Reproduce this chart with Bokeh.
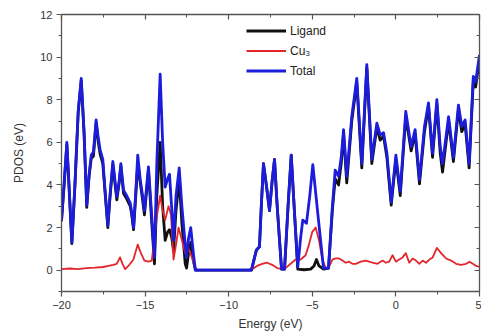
from bokeh.plotting import figure
from bokeh.models import (Range1d, LinearAxis, FixedTicker, CustomJSTickFormatter,
                          Legend, LegendItem)
from bokeh.embed import file_html
from bokeh.resources import INLINE

# ---------------- data ----------------
total_E = [-20.0, -19.85, -19.68, -19.55, -19.38, -19.2, -19.0, -18.82, -18.65, -18.49,
           -18.35, -18.22, -18.09, -17.93, -17.8, -17.69, -17.53, -17.4, -17.23, -17.1,
           -16.93, -16.8, -16.69, -16.55, -16.45, -16.29, -16.1, -15.89, -15.8, -15.69,
           -15.55, -15.44, -15.29, -15.15, -15.04, -14.9, -14.8, -14.6, -14.44, -14.3,
           -14.1, -13.95, -13.8, -13.65, -13.54, -13.4, -13.3, -13.15, -12.96, -12.8,
           -12.6, -12.52, -12.4, -12.27, -12.1, -11.99, -8.64, -8.34, -8.16, -8.05,
           -7.92, -7.75, -7.56, -7.4, -7.26, -7.1, -6.84, -6.66, -6.45, -6.26,
           -6.05, -5.87, -5.7, -5.57, -5.35, -5.15, -4.97, -4.65, -4.33, -4.03,
           -3.8, -3.63, -3.43, -3.27, -3.13, -2.94, -2.64, -2.34, -2.04, -1.74,
           -1.44, -1.14, -0.94, -0.74, -0.54, -0.28, 0.0, 0.26, 0.59, 0.91,
           1.15, 1.41, 1.71, 1.95, 2.19, 2.45, 2.65, 2.79, 3.15, 3.44,
           3.74, 3.94, 4.14, 4.38, 4.63, 4.77, 5.0]
total_V = [2.35, 4.0, 6.0, 4.0, 1.3, 4.0, 7.5, 9.0, 6.5, 3.05,
           4.5, 5.4, 5.55, 7.05, 6.2, 5.65, 5.2, 3.8, 2.1, 3.5,
           5.1, 4.2, 3.45, 4.2, 5.0, 3.75, 3.5, 3.15, 2.7, 2.0,
           3.8, 5.4, 4.25, 3.5, 2.8, 4.0, 4.85, 2.5, 0.6, 5.0,
           9.2, 6.0, 3.9, 4.3, 4.5, 2.8, 1.4, 3.5, 4.8, 3.0,
           1.2, 0.6, 1.5, 2.0, 0.7, 0.0, 0.0, 0.95, 1.1, 3.0,
           5.0, 4.0, 2.8, 4.2, 5.2, 3.0, 0.05, 0.05, 3.0, 5.4,
           2.5, 0.15, 1.5, 2.35, 2.2, 3.5, 4.95, 2.5, 0.1, 0.1,
           3.0, 4.7, 4.4, 5.3, 6.6, 4.4, 7.2, 9.0, 5.0, 9.65,
           5.2, 6.9, 6.35, 6.45, 5.5, 3.2, 5.4, 3.7, 7.45, 5.8,
           6.6, 4.25, 6.75, 7.85, 5.5, 8.0, 5.8, 5.0, 7.2, 5.3,
           7.75, 6.75, 7.05, 5.0, 9.1, 8.85, 10.1]

ligand_E = [-20.0, -19.85, -19.68, -19.55, -19.38, -19.2, -19.0, -18.82, -18.65, -18.49,
            -18.35, -18.22, -18.09, -17.93, -17.8, -17.69, -17.53, -17.4, -17.23, -17.1,
            -16.93, -16.8, -16.69, -16.55, -16.45, -16.29, -16.1, -15.89, -15.8, -15.69,
            -15.55, -15.44, -15.29, -15.15, -15.04, -14.9, -14.8, -14.6, -14.44, -14.3,
            -14.1, -13.95, -13.8, -13.65, -13.54, -13.4, -13.3, -13.15, -12.96, -12.8,
            -12.6, -12.52, -12.4, -12.27, -12.1, -11.99, -8.64, -8.34, -8.16, -8.05,
            -7.92, -7.75, -7.56, -7.4, -7.26, -7.1, -6.84, -6.66, -6.45, -6.26,
            -6.05, -5.87, -5.5, -5.1, -4.9, -4.75, -4.6, -4.33, -4.03,
            -3.8, -3.63, -3.43, -3.27, -3.13, -2.94, -2.64, -2.34, -2.04, -1.74,
            -1.44, -1.14, -0.94, -0.74, -0.54, -0.28, 0.0, 0.26, 0.59, 0.91,
            1.15, 1.41, 1.71, 1.95, 2.19, 2.45, 2.65, 2.79, 3.15, 3.44,
            3.74, 3.94, 4.14, 4.38, 4.63, 4.77, 5.0]
ligand_V = [2.3, 3.9, 5.9, 3.9, 1.25, 3.9, 7.4, 8.9, 6.4, 2.95,
            4.4, 5.25, 5.35, 6.9, 6.0, 5.45, 5.0, 3.7, 2.0, 3.4,
            4.95, 4.05, 3.3, 4.1, 4.9, 3.6, 3.35, 3.0, 2.6, 1.9,
            3.6, 5.0, 4.1, 3.3, 2.6, 3.8, 4.7, 2.2, 0.3, 3.5,
            6.0, 3.0, 1.4, 1.8, 1.9, 1.5, 0.9, 2.8, 4.3, 2.2,
            0.3, 0.1, 0.8, 1.3, 0.4, 0.0, 0.0, 0.95, 1.1, 3.0,
            5.0, 4.0, 2.8, 4.2, 5.2, 3.0, 0.05, 0.05, 3.0, 5.4,
            2.5, 0.05, 0.02, 0.05, 0.2, 0.5, 0.2, 0.05, 0.1,
            2.8, 4.3, 4.0, 5.0, 6.4, 4.1, 7.0, 8.8, 4.8, 9.5,
            5.0, 6.7, 6.1, 6.3, 5.3, 3.05, 5.2, 3.5, 7.2, 5.6,
            6.4, 4.05, 6.5, 7.7, 5.3, 7.8, 5.5, 4.6, 7.0, 5.1,
            7.55, 6.5, 6.85, 4.8, 8.9, 8.6, 9.9]

cu3_E = [-20.0, -19.5, -19.0, -18.5, -18.0, -17.5, -17.2, -16.9, -16.7, -16.5,
         -16.35, -16.2, -16.0, -15.7, -15.44, -15.25, -15.04, -14.8, -14.6, -14.44,
         -14.3, -14.1, -13.95, -13.8, -13.6, -13.45, -13.3, -13.15, -13.0, -12.8,
         -12.6, -12.4, -12.2, -12.0, -11.8, -9.0, -8.6, -8.3, -8.0, -7.7,
         -7.4, -7.1, -6.8, -6.6, -6.3, -6.0, -5.7, -5.4, -5.2, -5.0,
         -4.8, -4.6, -4.4, -4.2, -4.0, -3.8, -3.6, -3.4, -3.2, -3.0,
         -2.8, -2.6, -2.4, -2.1, -1.8, -1.6, -1.4, -1.1, -0.8, -0.6,
         -0.4, -0.2, 0.0, 0.2, 0.4, 0.59, 0.8, 1.0, 1.2, 1.4,
         1.6, 1.8, 2.0, 2.2, 2.45, 2.7, 3.0, 3.3, 3.6, 3.9,
         4.2, 4.4, 4.6, 4.8, 5.0]
cu3_V = [0.05, 0.08, 0.05, 0.1, 0.12, 0.15, 0.2, 0.25, 0.3, 0.6,
         0.3, 0.05, 0.2, 0.5, 1.2, 0.8, 0.45, 0.4, 0.45, 1.5,
         2.5, 3.5, 2.8, 2.35, 3.0, 2.6, 0.5, 1.2, 2.0, 1.4,
         0.8, 1.0, 0.6, 0.05, 0.0, 0.0, 0.05, 0.2, 0.3, 0.35,
         0.25, 0.1, 0.05, 0.1, 0.3, 0.5, 0.5, 0.7, 1.2, 1.8,
         2.0, 1.4, 0.5, 0.1, 0.15, 0.5, 0.55, 0.55, 0.45, 0.35,
         0.4, 0.3, 0.3, 0.4, 0.45, 0.4, 0.35, 0.3, 0.45, 0.35,
         0.4, 0.7, 0.4, 0.5, 0.6, 0.8, 0.35, 0.55, 0.45, 0.3,
         0.45, 0.35, 0.5, 0.6, 1.05, 0.8, 0.55, 0.45, 0.3, 0.25,
         0.3, 0.4, 0.3, 0.2, 0.15]

x_ticks = [-20, -15, -10, -5, 0, 5]
y_ticks = [0, 2, 4, 6, 8, 10, 12]
series_labels = ["Ligand", "Cu\u2083", "Total"]

# ---------------- figure ----------------
FONT = "Liberation Sans"
AX_COLOR = "#555555"
LBL_COLOR = "#333333"

p = figure(frame_width=418, frame_height=277, output_backend="svg", toolbar_location=None,
           x_range=Range1d(-20, 5), y_range=Range1d(-1, 12),
           min_border_left=61, min_border_top=14, min_border_right=2, min_border_bottom=38)
p.background_fill_color = "white"
p.border_fill_color = "white"
p.outline_line_color = None
p.xgrid.visible = False
p.ygrid.visible = False

r_lig = p.line(ligand_E, ligand_V, line_color="#111111", line_width=2.8, line_join="round")
r_cu = p.line(cu3_E, cu3_V, line_color="#e3262b", line_width=1.8, line_join="round")
r_tot = p.line(total_E, total_V, line_color="#1c1cdc", line_width=2.8, line_join="round")


def style_axis(ax, labels=True):
    ax.axis_line_color = AX_COLOR
    ax.axis_line_width = 1.3
    ax.major_tick_line_color = AX_COLOR
    ax.minor_tick_line_color = AX_COLOR
    ax.major_tick_line_width = 1.2
    ax.minor_tick_line_width = 1.0
    ax.major_label_text_font = FONT
    ax.major_label_text_font_size = "11px"
    ax.major_label_text_color = LBL_COLOR
    ax.axis_label_text_font = FONT
    ax.axis_label_text_font_size = "12px"
    ax.axis_label_text_font_style = "normal"
    ax.axis_label_text_color = LBL_COLOR
    if labels:
        ax.major_tick_out = 5
        ax.major_tick_in = 0
        ax.minor_tick_out = 3
        ax.minor_tick_in = 0
    else:
        ax.major_tick_out = 0
        ax.major_tick_in = 5
        ax.minor_tick_out = 0
        ax.minor_tick_in = 3
        ax.formatter = CustomJSTickFormatter(code="return ''")
        ax.major_label_standoff = 0


xt = FixedTicker(ticks=x_ticks, minor_ticks=[-17.5, -12.5, -7.5, -2.5, 2.5])
yt = FixedTicker(ticks=y_ticks, minor_ticks=[-1, 1, 3, 5, 7, 9, 11])

p.xaxis.ticker = xt
p.yaxis.ticker = yt
p.xaxis.axis_label = "Energy (eV)"
p.yaxis.axis_label = "PDOS (eV)"
style_axis(p.xaxis[0])
style_axis(p.yaxis[0])
p.xaxis.major_label_standoff = 4
p.yaxis.major_label_standoff = 4
p.xaxis.axis_label_standoff = 5
p.yaxis.axis_label_standoff = 11

top = LinearAxis(ticker=FixedTicker(ticks=x_ticks, minor_ticks=[-17.5, -12.5, -7.5, -2.5, 2.5]))
style_axis(top, labels=False)
p.add_layout(top, "above")
right = LinearAxis(ticker=FixedTicker(ticks=y_ticks, minor_ticks=[-1, 1, 3, 5, 7, 9, 11]))
style_axis(right, labels=False)
p.add_layout(right, "right")

legend = Legend(items=[LegendItem(label=series_labels[0], renderers=[r_lig]),
                       LegendItem(label=series_labels[1], renderers=[r_cu]),
                       LegendItem(label=series_labels[2], renderers=[r_tot])],
                location=(183, 210))
legend.background_fill_alpha = 0
legend.border_line_alpha = 0
legend.label_text_font = FONT
legend.label_text_font_size = "12px"
legend.label_text_color = "#222222"
legend.glyph_width = 40
legend.glyph_height = 17
legend.label_height = 17
legend.label_standoff = 4
legend.spacing = 3
legend.padding = 2
legend.margin = 0
p.add_layout(legend)

open("out.html", "w").write(file_html(p, INLINE))
